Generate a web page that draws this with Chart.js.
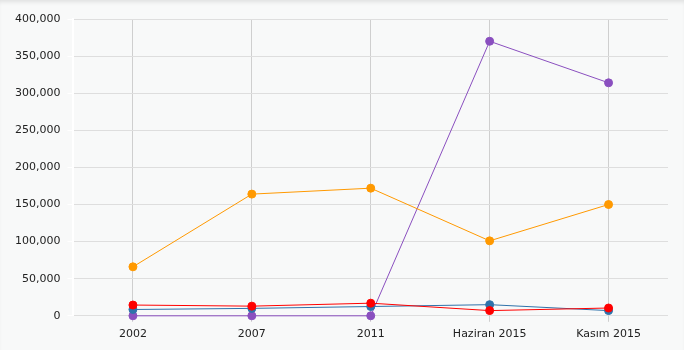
<!DOCTYPE html>
<html>
<head>
<meta charset="utf-8">
<script src="https://cdn.jsdelivr.net/npm/chart.js@4/dist/chart.umd.min.js"></script>
<style>
    html, body { margin: 0; padding: 0; background: #f8f9f9; }
    #wrap { position: relative; width: 684px; height: 350px; box-shadow: inset 0 4px 4px -2px rgba(0,0,0,0.10); }
    canvas { display: block; }
</style>
</head>
<body>
<div id="wrap"><canvas id="grafico" width="684" height="350"></canvas></div>
<script>
const categories = ['2002', '2007', '2011', 'Haziran 2015', 'Kasım 2015'];
const orangeValues = [66000, 164000, 172000, 101000, 150000];
const redValues = [14500, 13000, 17000, 7000, 10500];
const blueValues = [8500, 10000, 12500, 15000, 7000];
const purpleValues = [0, 0, 0, 370000, 314000];
const yTicks = [0, 50000, 100000, 150000, 200000, 250000, 300000, 350000, 400000];

function serie(data, color) {
    return {
        data,
        borderColor: color,
        backgroundColor: color,
        borderWidth: 1,
        pointRadius: 4,
        pointHoverRadius: 4,
        pointBorderWidth: 1,
        pointBackgroundColor: color,
        pointBorderColor: color,
        tension: 0,
        fill: false,
        clip: false
    };
}

Chart.defaults.font.family = '"DejaVu Sans", Verdana, sans-serif';
Chart.defaults.font.size = 11;
Chart.defaults.color = '#222';

new Chart(document.getElementById('grafico').getContext('2d'), {
    type: 'line',
    data: {
        labels: categories,
        datasets: [
            serie(orangeValues, '#ff9900'),
            serie(redValues, '#ff0000'),
            serie(blueValues, '#2f72aa'),
            serie(purpleValues, '#8a4fbf')
        ]
    },
    options: {
        responsive: false,
        animation: false,
        layout: { padding: { left: 8, right: 16, top: 19, bottom: 3 } },
        plugins: { legend: { display: false }, tooltip: { enabled: false } },
        scales: {
            x: {
                offset: true,
                grid: { offset: false, color: '#cfcfcf', tickLength: 6, drawOnChartArea: true },
                border: { display: false },
                ticks: { padding: 6, maxRotation: 0 }
            },
            y: {
                min: 0,
                max: 400000,
                afterBuildTicks: axis => { axis.ticks = yTicks.map(v => ({ value: v })); },
                grid: { color: '#dedede', tickColor: '#ffffff', tickLength: 6 },
                border: { display: true, color: '#ffffff', width: 2 },
                ticks: { padding: 7, callback: v => v.toLocaleString('en-US') }
            }
        }
    }
});
</script>
</body>
</html>
